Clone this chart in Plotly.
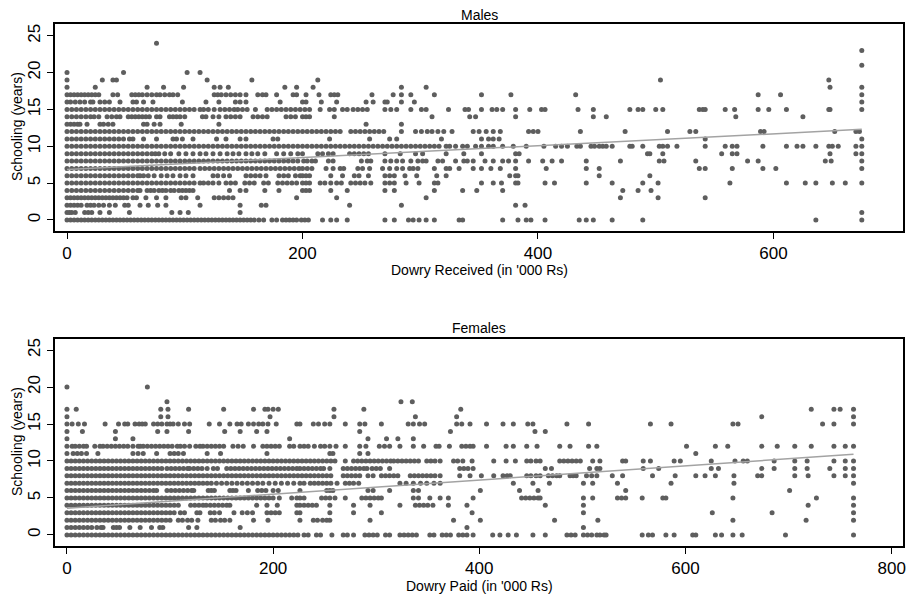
import plotly.graph_objects as go

# ---------------- Males: schooling level -> dowry received ('000 Rs) ----------------
male_s00 = [0,3,6,9,12,15,18,21,24,27,30,33,36,39,42,45,48,51,54,57,60,63,66,69,72,75,78,81,84,87,90,93,96,99,102,105,108,111,114,117,120,123,126,129,132,135,138,141,144,147,150,153,156,159,163,167,174,178,183,186,189,192,195,199,202,205,217,224,229,238,270,278,290,294,299,305,312,333,336,370,383,390,394,406,435,441,447,463,489,636,675]
male_s01 = [0,2,4,7,15,18,21,28,36,53,89,96,103,147,675]
male_s02 = [0,3,6,9,12,17,20,23,27,31,36,41,49,52,62,69,77,84,113,147,165,169,240,284,381,389]
male_s03 = [0,3,6,9,12,15,18,21,24,27,30,33,36,39,42,45,48,51,56,59,67,76,84,97,101,111,125,129,133,137,141,195,229,305,470,502,542]
male_s04 = [0,4,8,12,16,20,24,28,32,36,40,44,48,52,56,60,62,68,71,74,78,81,84,88,91,95,98,101,104,107,138,147,152,168,180,200,203,206,224,238,270,278,312,336,348,370,472,485,496]
male_s05 = [0,4,8,12,16,20,24,28,32,36,40,44,48,52,56,60,64,68,72,76,80,84,88,92,96,100,104,108,113,116,120,124,129,135,139,143,151,155,159,167,171,179,183,187,191,195,200,203,206,215,219,224,229,233,241,245,249,253,258,270,274,278,288,299,312,315,352,362,369,381,383,406,414,441,463,489,502,563,611,627,636,650,661,675]
male_s06 = [0,4,8,12,16,20,24,28,32,36,40,44,48,52,56,60,62,65,69,74,80,85,90,96,101,107,124,128,133,138,152,156,160,164,169,180,184,188,194,198,200,203,206,224,234,244,248,256,270,274,278,287,297,314,322,376,381,383,452,495]
male_s07 = [0,4,8,12,16,20,24,28,32,36,40,44,48,52,56,60,64,68,72,76,80,84,88,92,96,100,104,108,113,117,121,125,129,133,137,141,145,149,153,157,161,165,169,173,177,181,185,189,193,197,200,204,208,220,226,232,235,247,251,257,268,274,280,285,291,294,298,312,322,325,333,345,352,360,368,381,407,441,452,537,542,565,591,602,675]
male_s08 = [0,4,8,12,16,20,24,28,32,36,40,44,48,52,56,60,64,68,72,76,80,84,88,92,96,100,104,108,112,116,120,124,128,132,136,140,144,148,152,156,160,164,168,172,176,180,184,188,192,196,201,204,208,211,222,226,250,255,258,270,275,280,285,292,298,302,305,315,319,330,337,340,345,355,362,370,375,381,392,404,412,420,441,470,503,507,534,578,587,644,649,675]
male_s09 = [0,4,8,12,16,20,24,28,32,36,40,44,48,52,56,60,64,68,72,75,78,83,88,95,101,107,113,118,124,130,136,141,146,152,157,162,168,178,184,190,196,200,213,217,222,226,240,244,248,252,256,270,283,296,302,322,337,352,381,384,493,495,506,556,565,569,648,670,675]
male_s10 = [0,4,8,12,16,20,24,28,32,36,40,44,48,52,56,60,64,68,72,76,80,84,88,92,96,100,104,108,112,116,120,124,128,132,136,140,144,148,152,156,160,164,168,172,176,180,184,188,192,196,200,204,208,212,216,220,224,228,232,236,240,244,248,252,256,260,264,268,272,276,280,284,288,292,296,300,304,308,312,316,322,325,330,336,340,347,352,358,362,370,379,390,405,415,420,425,433,436,445,448,452,455,458,463,478,480,489,503,506,510,518,542,559,565,569,591,611,620,625,636,647,650,655,670,675]
male_s11 = [0,4,8,12,16,20,24,28,32,36,40,44,48,53,56,65,76,90,93,98,107,127,135,147,152,175,179,223,257,274,280,318,352,358,362,367,542,675]
male_s12 = [0,4,8,12,16,20,24,28,32,36,40,44,48,52,56,60,64,68,72,76,80,84,88,92,96,100,104,108,112,116,120,124,128,132,136,140,144,148,152,156,160,164,168,172,176,180,184,188,192,196,200,204,208,212,216,220,224,228,232,241,245,249,253,257,261,265,269,284,296,301,306,310,315,320,327,345,350,356,362,368,392,396,400,436,474,510,529,534,589,592,652,670,673]
male_s13 = [0,3,6,9,11,17,28,31,35,39,65,68,74,79,97,129,254,284]
male_s14 = [0,4,8,12,16,20,23,27,34,38,42,45,52,55,58,61,64,67,70,76,79,87,90,93,96,100,115,118,124,129,135,139,143,147,158,162,166,170,186,190,194,200,203,206,227,310,342,347,381,447,458,568,625]
male_s15 = [0,4,8,12,16,20,24,28,32,36,40,44,48,52,56,60,64,68,72,76,80,84,88,92,96,100,104,108,113,116,120,125,130,134,138,142,145,149,153,160,170,174,178,182,186,190,194,198,202,206,215,223,227,234,238,243,247,251,255,270,275,280,292,301,305,324,338,341,352,361,365,370,381,393,403,406,434,447,478,485,489,500,506,537,540,542,559,567,587,596,611,647,648,675]
male_s16 = [0,3,7,11,15,20,22,28,32,36,45,56,59,65,73,98,118,129,143,147,152,181,200,203,216,229,254,260,270,272,284,295,675]
male_s17 = [0,3,6,9,12,15,18,21,24,27,39,43,55,58,61,64,68,72,76,79,83,87,90,94,125,128,131,135,139,143,147,152,162,166,169,178,192,195,203,214,224,227,230,259,277,284,292,312,352,377,432,587,606,675]
male_s18 = [0,24,68,82,99,125,130,137,185,195,209,284,305,648,675]
male_s19 = [0,30,39,42,119,157,213,504,647]
male_s20 = [0,48,102,113]
male_s21 = [675]
male_s23 = [675]
male_s24 = [76]

male_rows = [(0, male_s00), (1, male_s01), (2, male_s02), (3, male_s03), (4, male_s04),
             (5, male_s05), (6, male_s06), (7, male_s07), (8, male_s08), (9, male_s09),
             (10, male_s10), (11, male_s11), (12, male_s12), (13, male_s13), (14, male_s14),
             (15, male_s15), (16, male_s16), (17, male_s17), (18, male_s18), (19, male_s19),
             (20, male_s20), (21, male_s21), (23, male_s23), (24, male_s24)]

# fitted line (Males)
male_fit_x = [0, 675]
male_fit_y = [6.85, 12.3]

# ---------------- Females: schooling level -> dowry paid ('000 Rs) ----------------
fem_s00 = [0,4,8,12,16,20,24,28,32,36,40,44,48,52,56,60,64,68,72,76,80,84,88,92,96,100,104,108,112,116,120,124,128,132,136,140,144,148,152,156,160,164,168,172,176,180,184,188,192,196,200,204,208,212,216,220,224,230,234,242,246,257,268,272,278,289,293,297,301,309,313,323,327,331,335,339,352,356,364,368,372,380,384,388,394,413,420,428,436,452,464,485,489,493,501,505,509,514,517,521,523,558,564,568,581,589,607,610,629,635,646,655,697,763]
fem_s01 = [0,4,8,12,16,20,24,29,33,35,45,48,51,61,71,82,90,93,118,126,168,388,501]
fem_s02 = [0,4,8,12,16,20,24,28,32,36,40,44,48,52,56,60,64,68,72,76,80,84,88,92,96,100,108,112,117,121,127,140,144,149,153,158,181,195,226,239,243,248,252,255,294,375,401,473,515,646,717,763]
fem_s03 = [0,4,8,12,16,20,24,28,32,36,40,44,48,52,56,60,64,68,72,76,80,84,88,92,96,100,104,110,114,126,129,139,143,148,162,170,175,180,194,198,202,206,223,226,255,278,305,393,501,626,684,763]
fem_s04 = [0,4,8,12,16,20,24,28,32,36,40,44,48,52,56,60,64,68,72,76,80,84,88,92,96,100,104,108,120,124,128,132,135,139,143,147,151,155,158,184,194,204,223,226,230,234,238,242,255,278,294,323,338,342,346,350,355,370,388,464,501,719,763]
fem_s05 = [0,4,8,12,16,20,24,28,32,36,40,44,48,52,56,60,64,68,72,76,80,84,88,92,96,100,104,108,112,116,120,124,128,132,136,140,144,148,152,156,160,164,168,172,176,180,184,188,192,196,200,206,218,223,226,230,247,251,255,260,270,286,290,294,298,302,305,336,341,352,362,370,394,441,445,449,453,457,459,501,510,534,538,542,558,578,581,646,727,763]
fem_s06 = [0,4,8,12,16,20,24,28,32,36,40,44,48,52,56,60,64,68,72,76,80,84,87,97,101,105,109,113,117,121,123,137,140,143,158,161,164,176,185,189,193,200,205,226,252,255,258,292,297,313,336,341,401,439,457,542,701]
fem_s07 = [0,4,8,12,16,20,24,28,32,36,40,44,48,52,56,60,64,68,72,76,80,84,88,92,96,100,104,108,112,116,120,124,128,132,136,140,145,150,155,160,165,170,175,180,185,190,196,202,208,214,220,226,230,236,240,244,248,252,256,262,270,274,278,283,323,329,336,343,349,356,362,433,452,468,501,510,534,586,647,763]
fem_s08 = [0,4,8,12,16,20,24,28,32,36,40,44,48,52,56,60,64,68,72,76,80,84,88,92,96,100,104,108,112,116,120,124,128,132,136,140,144,148,152,156,160,164,168,172,176,180,184,188,192,196,200,204,208,212,216,220,224,228,232,236,240,244,248,252,256,268,272,276,280,284,292,297,305,309,313,317,321,333,337,341,345,349,353,357,362,381,391,402,414,423,427,430,446,450,455,459,467,471,475,478,488,491,494,504,509,514,529,539,568,590,610,619,629,647,670,674,706,719,744,755,763]
fem_s09 = [0,4,8,12,16,20,24,28,32,36,40,44,48,52,56,60,64,68,72,76,80,84,88,92,97,101,105,109,113,117,119,123,127,131,136,142,146,155,159,163,167,171,175,179,183,187,191,195,199,203,207,211,215,219,223,226,230,234,238,242,246,249,255,268,272,276,280,284,288,291,296,300,304,313,381,385,389,394,464,470,507,514,517,559,574,625,632,674,686,706,718,740,755,763]
fem_s10 = [0,4,8,12,16,20,24,28,32,36,40,44,48,52,56,60,64,68,72,76,80,84,88,92,96,100,104,108,112,116,120,124,128,132,136,140,144,148,152,156,160,164,168,172,176,180,184,188,192,196,200,204,208,212,216,220,224,228,232,236,240,244,248,252,256,260,270,278,282,286,290,294,298,302,306,310,314,317,321,325,329,333,337,341,349,353,357,362,375,379,384,393,414,426,435,446,450,455,459,478,482,486,490,494,498,510,517,539,542,559,566,589,595,625,648,656,660,686,706,718,744,755,763]
fem_s11 = [0,6,10,14,19,30,64,69,74,87,100,104,108,113,136,149,194,255,258,284,292,610]
fem_s12 = [0,5,8,12,16,19,27,32,35,39,43,47,51,55,59,64,69,71,74,78,82,86,90,94,98,102,107,110,114,119,125,129,132,136,140,144,148,152,161,166,171,181,190,194,198,202,206,216,220,226,230,234,240,246,250,255,261,270,284,290,303,308,313,323,336,346,358,361,371,383,387,391,394,407,426,433,446,456,478,488,506,514,601,629,641,674,689,706,722,744,755,763]
fem_s13 = [0,47,64,216,292,310,321,336]
fem_s14 = [0,15,47,88,97,118,153,168,184,194,284,372,454,464]
fem_s15 = [0,5,11,17,37,50,56,59,66,70,73,76,84,88,92,97,100,103,108,114,119,138,148,158,165,169,176,181,186,190,195,203,223,226,239,244,250,255,270,284,289,305,331,336,342,347,378,383,391,407,423,433,447,452,485,506,566,586,646,651,733,744,763]
fem_s16 = [0,91,98,197,259,338,378,674,763]
fem_s17 = [0,9,91,98,118,152,181,192,195,200,205,259,288,382,722,744,750,763]
fem_s18 = [97,324,335]
fem_s20 = [0,78]

fem_rows = [(0, fem_s00), (1, fem_s01), (2, fem_s02), (3, fem_s03), (4, fem_s04),
            (5, fem_s05), (6, fem_s06), (7, fem_s07), (8, fem_s08), (9, fem_s09),
            (10, fem_s10), (11, fem_s11), (12, fem_s12), (13, fem_s13), (14, fem_s14),
            (15, fem_s15), (16, fem_s16), (17, fem_s17), (18, fem_s18), (20, fem_s20)]

# fitted line (Females)
fem_fit_x = [0, 763]
fem_fit_y = [3.6, 10.9]

# tick labels
male_xticks = [0, 200, 400, 600]
fem_xticks = [0, 200, 400, 600, 800]
y_ticks = [0, 5, 10, 15, 20, 25]


def flatten(rows):
    xs, ys = [], []
    for level, vals in rows:
        for v in vals:
            xs.append(v)
            ys.append(level)
    return xs, ys


mx, my = flatten(male_rows)
fx, fy = flatten(fem_rows)

DOT = "#5e5e5e"
LINE = "#a3a3a3"
FONT = "Liberation Sans, Arial, Helvetica, sans-serif"

fig = go.Figure()
fig.add_trace(go.Scatter(x=mx, y=my, mode="markers", xaxis="x", yaxis="y",
                         marker=dict(size=5, color=DOT, line=dict(width=0)),
                         showlegend=False, hoverinfo="skip"))
fig.add_trace(go.Scatter(x=male_fit_x, y=male_fit_y, mode="lines", xaxis="x", yaxis="y",
                         line=dict(color=LINE, width=1.5), showlegend=False, hoverinfo="skip"))
fig.add_trace(go.Scatter(x=fx, y=fy, mode="markers", xaxis="x2", yaxis="y2",
                         marker=dict(size=5, color=DOT, line=dict(width=0)),
                         showlegend=False, hoverinfo="skip"))
fig.add_trace(go.Scatter(x=fem_fit_x, y=fem_fit_y, mode="lines", xaxis="x2", yaxis="y2",
                         line=dict(color=LINE, width=1.5), showlegend=False, hoverinfo="skip"))

axis_common = dict(showgrid=False, zeroline=False, showline=True, mirror=True,
                   linecolor="black", linewidth=1.5, ticks="outside", ticklen=6,
                   tickwidth=1, tickcolor="black", ticklabeloverflow="allow",
                   tickfont=dict(family=FONT, size=17, color="black"))

# the page body margin is removed (post_script below), so lay out in page pixels
PLOT_L, PLOT_R, PLOT_T, PLOT_B = 55, 903, 24, 546
W, H = 909, 597
top_bottom = (PLOT_B - 231) / (PLOT_B - PLOT_T)
bot_top = (PLOT_B - 339) / (PLOT_B - PLOT_T)

fig.update_layout(
    width=W, height=H,
    margin=dict(l=PLOT_L, r=W - PLOT_R, t=PLOT_T, b=H - PLOT_B, pad=0, autoexpand=False),
    paper_bgcolor="white", plot_bgcolor="white",
    font=dict(family=FONT, color="black"),
    xaxis=dict(domain=[0, 1], anchor="y", range=[-10.2, 710],
               tickvals=male_xticks, **axis_common),
    yaxis=dict(domain=[top_bottom, 1], anchor="x", range=[-1.5, 26.6],
               tickvals=y_ticks, tickangle=-90, **axis_common),
    xaxis2=dict(domain=[0, 1], anchor="y2", range=[-11.6, 811],
                tickvals=fem_xticks, **axis_common),
    yaxis2=dict(domain=[0, bot_top], anchor="x2", range=[-1.5, 26.5],
                tickvals=y_ticks, tickangle=-90, **axis_common),
)


def py(pix):
    return (PLOT_B - pix) / (PLOT_B - PLOT_T)


def px(pix):
    return (pix - PLOT_L) / (PLOT_R - PLOT_L)


ann_font = dict(family=FONT, size=14, color="black")
annotations = [
    dict(text="Males", x=0.5, y=py(15), xref="paper", yref="paper", showarrow=False,
         xanchor="center", yanchor="middle", font=ann_font),
    dict(text="Females", x=0.5, y=py(328), xref="paper", yref="paper", showarrow=False,
         xanchor="center", yanchor="middle", font=ann_font),
    dict(text="Dowry Received (in '000 Rs)", x=0.5, y=py(270), xref="paper", yref="paper",
         showarrow=False, xanchor="center", yanchor="middle", font=ann_font),
    dict(text="Dowry Paid (in '000 Rs)", x=0.5, y=py(585.5), xref="paper", yref="paper",
         showarrow=False, xanchor="center", yanchor="middle", font=ann_font),
    dict(text="Schooling (years)", x=px(17), y=py(127), xref="paper", yref="paper",
         showarrow=False, xanchor="center", yanchor="middle", textangle=-90, font=ann_font),
    dict(text="Schooling (years)", x=px(17), y=py(442), xref="paper", yref="paper",
         showarrow=False, xanchor="center", yanchor="middle", textangle=-90, font=ann_font),
]
fig.update_layout(annotations=annotations)

fig.write_html("out.html",
               config={"displayModeBar": False},
               post_script="document.body.style.margin='0';document.body.style.overflow='hidden';")
